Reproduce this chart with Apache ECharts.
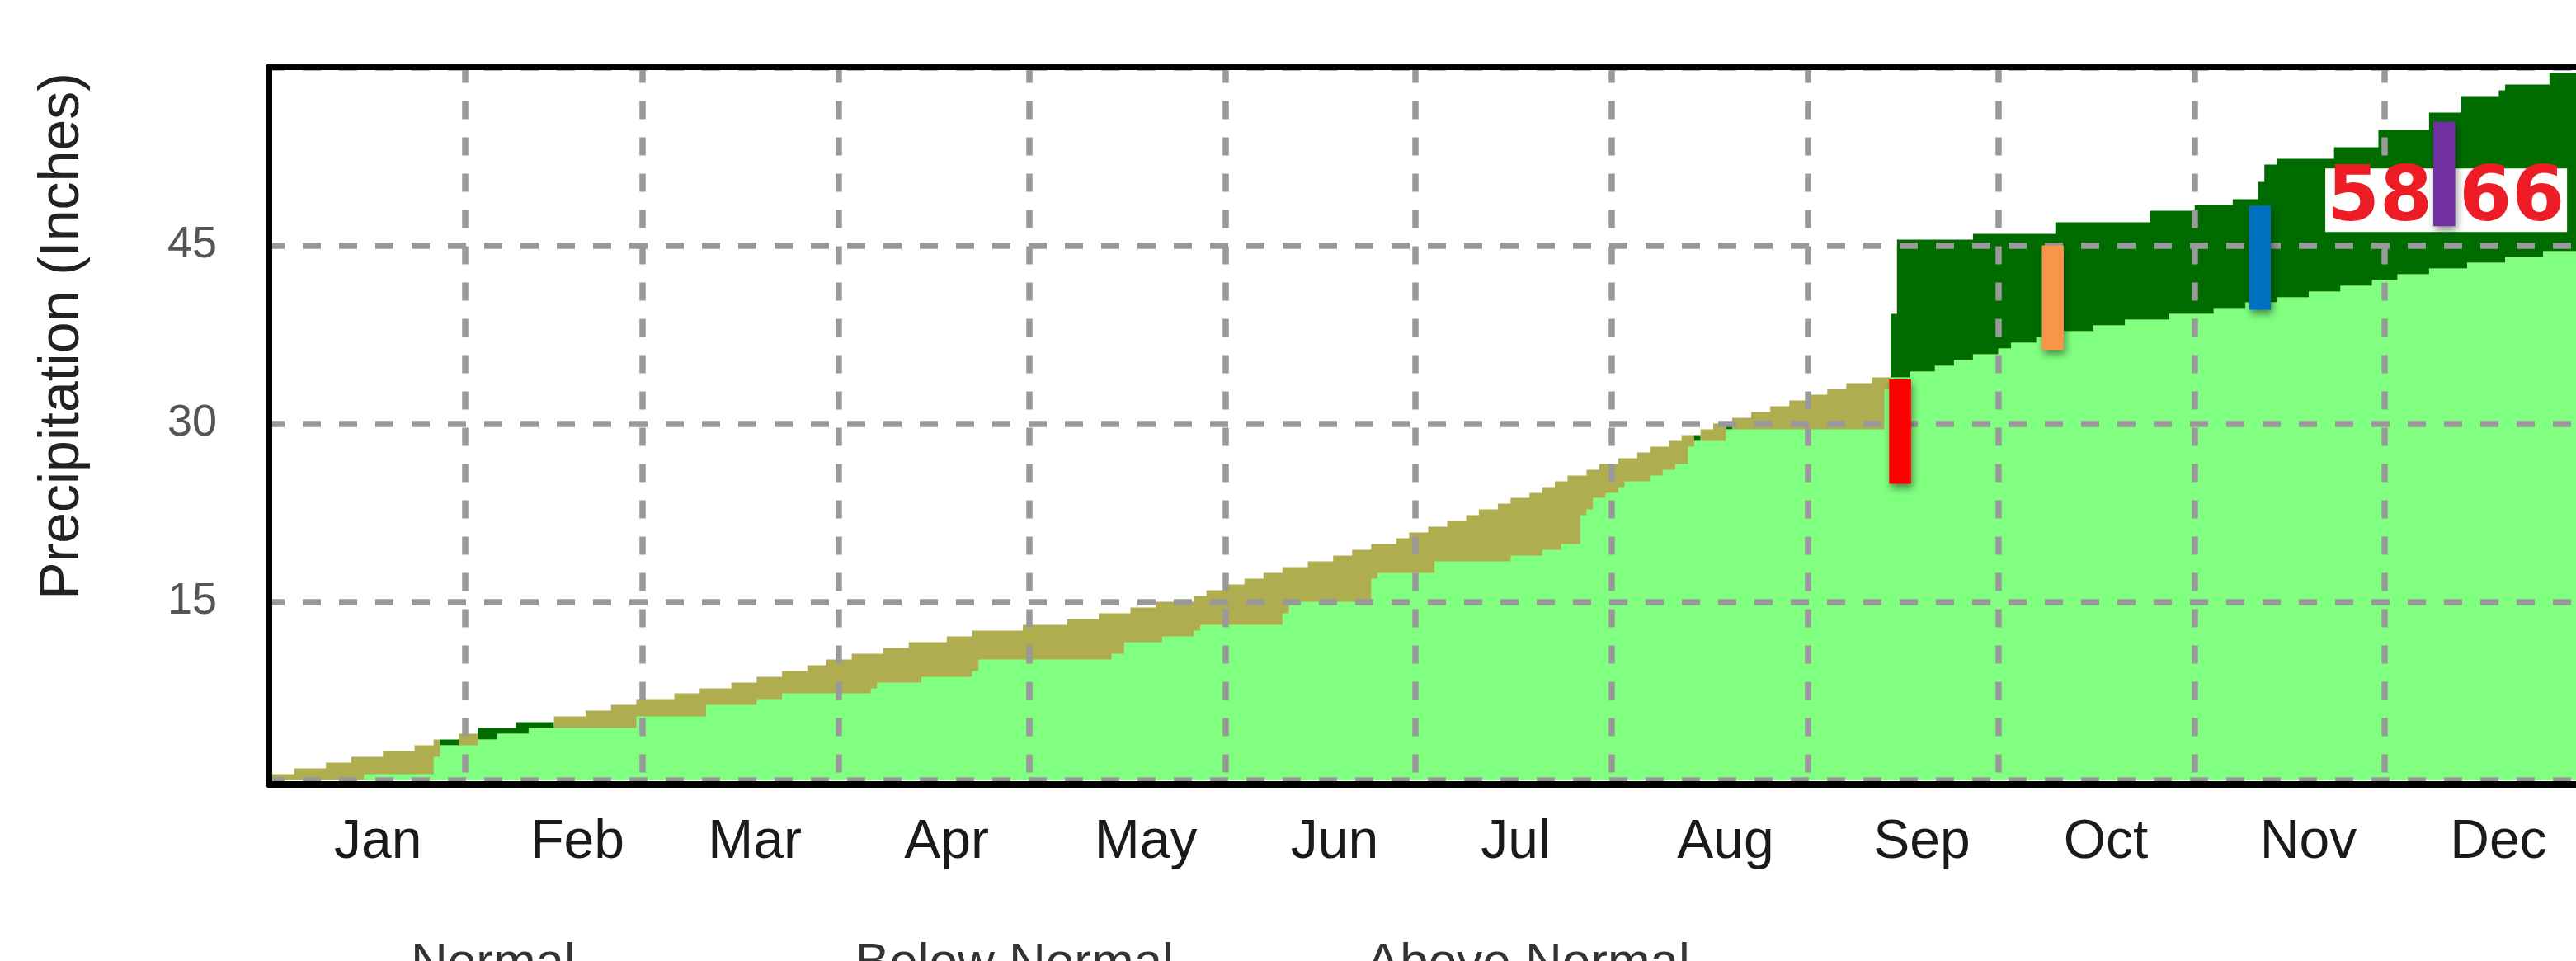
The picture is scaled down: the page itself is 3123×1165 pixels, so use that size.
<!DOCTYPE html>
<html>
<head>
<meta charset="utf-8">
<script src="https://cdn.jsdelivr.net/npm/echarts@6/dist/echarts.min.js"></script>
<style>
  html, body { margin: 0; padding: 0; background: #ffffff; }
  #chart { width: 3123px; height: 1165px; }
</style>
</head>
<body>
<div id="chart"></div>
<script>
// ---------------- data ----------------
const monthNames = ['Jan', 'Feb', 'Mar', 'Apr', 'May', 'Jun', 'Jul', 'Aug', 'Sep', 'Oct', 'Nov', 'Dec'];
const monthStartDays = [0, 31, 59, 90, 120, 151, 181, 212, 243, 273, 304, 334];
const daysInYear = 365;
const yMax = 60;
const yStep = 15;

// cumulative normal precipitation (inches): [day of year, value from that day on]
const normalSteps = [
  [0, 0.49], [4, 0.97], [9, 1.46], [13, 1.94], [18, 2.43], [23, 2.92], [26, 3.40], [27, 2.92],
  [30, 3.89], [33, 3.40], [36, 3.89], [41, 4.38], [45, 5.35], [50, 5.83], [54, 6.32], [58, 6.81],
  [64, 7.29], [68, 7.71], [73, 8.19], [77, 8.68], [81, 9.17], [85, 9.65], [88, 10.14], [92, 10.63],
  [97, 11.11], [101, 11.60], [107, 12.08], [111, 12.57], [119, 13.06], [126, 13.54], [131, 14.03],
  [136, 14.51], [140, 15.00], [146, 15.49], [148, 15.97], [151, 16.46], [154, 16.94], [157, 17.43],
  [160, 17.92], [164, 18.40], [168, 18.89], [171, 19.38], [174, 19.86], [178, 20.35], [180, 20.83],
  [183, 21.32], [186, 21.81], [189, 22.29], [191, 22.78], [194, 23.26], [196, 23.75], [199, 24.17],
  [201, 24.65], [203, 25.14], [205, 25.63], [208, 26.11], [210, 26.60], [213, 27.08], [216, 27.57],
  [218, 28.06], [221, 28.54], [223, 29.03], [225, 28.54], [226, 29.51], [228, 30.00], [230, 29.51],
  [231, 30.49], [234, 30.97], [237, 31.46], [240, 31.94], [243, 32.43], [246, 32.90], [249, 33.40],
  [253, 33.89], [259, 34.38], [263, 34.86], [266, 35.35], [269, 35.83], [273, 36.32], [275, 36.81],
  [279, 37.29], [283, 37.78], [288, 38.26], [293, 38.75], [300, 39.24], [307, 39.72], [312, 40.21],
  [317, 40.63], [322, 41.11], [327, 41.60], [332, 42.08], [336, 42.57], [341, 43.06], [347, 43.54],
  [353, 44.03], [359, 44.51]
];

// cumulative observed precipitation (inches): [day of year, value from that day on]
const observedSteps = [
  [0, 0], [15, 0.49], [26, 1.94], [27, 3.40], [30, 2.92], [33, 4.38], [39, 4.86], [45, 4.38],
  [58, 5.35], [69, 6.32], [77, 6.81], [81, 7.29], [95, 7.71], [96, 8.19], [103, 8.68], [111, 9.17],
  [112, 10.14], [133, 10.63], [135, 11.60], [141, 12.08], [146, 12.57], [147, 13.06], [160, 14.03],
  [161, 15.00], [174, 16.94], [175, 17.43], [184, 18.40], [196, 18.89], [201, 19.38], [204, 19.86],
  [207, 22.29], [208, 22.78], [209, 23.75], [211, 24.17], [213, 24.65], [214, 25.14], [218, 25.63],
  [220, 26.11], [222, 26.60], [224, 28.06], [225, 29.03], [226, 28.54], [230, 30.00], [231, 29.51],
  [255, 32.90], [256, 39.24], [257, 45.49], [269, 45.97], [282, 46.94], [297, 47.92], [304, 48.40],
  [310, 48.89], [314, 50.35], [315, 51.81], [317, 52.29], [326, 53.26], [333, 54.72], [341, 56.18],
  [346, 57.57], [352, 58.06], [353, 58.54], [360, 59.51]
];

// event markers: day, bottom and top (inches)
const eventDays = [257.5, 281.6, 314.3, 343.4];
const eventLow = [24.93, 36.2, 39.58, 46.62];
const eventHigh = [33.73, 45.0, 48.35, 55.42];
const eventColors = ['#FF0000', '#F79646', '#0070C0', '#7030A0'];

// annotation box
const annotationText = '58 66';
const annotationPoint = [343.7, 48.8];

const legendNames = ['Normal', 'Below Normal', 'Above Normal'];

// ---------------- helpers ----------------
function valueAt(steps, day) {
  let v = steps[0][1];
  for (const [d, val] of steps) { if (d <= day) v = val; else break; }
  return v;
}
function closeSteps(steps) {
  return steps.concat([[daysInYear, steps[steps.length - 1][1]]]);
}
const changeDays = Array.from(new Set(normalSteps.map(p => p[0]).concat(observedSteps.map(p => p[0])))).sort((a, b) => a - b);
const lowerSteps = changeDays.map(d => [d, Math.min(valueAt(normalSteps, d), valueAt(observedSteps, d))]);

const monthBoundaries = monthStartDays.slice(1);
const labelDays = monthStartDays.map(d => d + 10.3);

// ---------------- chart ----------------
const chart = echarts.init(document.getElementById('chart'), null, { renderer: 'canvas', width: 3123, height: 1165 });

const gridLineStyle = { color: '#999999', width: 7.5, type: [22, 22], dashOffset: 3 };
const FONT = 'Liberation Sans, Arial, sans-serif';

function areaSeries(name, steps, color) {
  return {
    name: name, type: 'line', step: 'end', data: closeSteps(steps),
    symbol: 'none', showSymbol: false, silent: true, z: 2,
    color: color, itemStyle: { color: color },
    lineStyle: { width: 0, color: color },
    areaStyle: { color: color, opacity: 1 }
  };
}

function legendAt(name, left) {
  return {
    show: true, orient: 'horizontal', left: left, top: 1138, width: 600, height: 90, padding: 0,
    itemWidth: 30, itemHeight: 20, itemGap: 10, icon: 'rect', selectedMode: false,
    itemStyle: { opacity: 0 },
    textStyle: { fontFamily: FONT, fontSize: 62, color: '#333' },
    data: [name]
  };
}

const option = {
  animation: false,
  backgroundColor: '#ffffff',
  grid: { left: 326, top: 81.5, width: 2803.2, height: 864, containLabel: false, outerBoundsMode: 'none' },
  legend: [legendAt(legendNames[0], 463), legendAt(legendNames[1], 1002), legendAt(legendNames[2], 1621)],
  xAxis: [
    {
      type: 'value', min: 0, max: daysInYear, position: 'bottom', offset: 5.5, z: 5,
      axisLine: { show: true, onZero: false, lineStyle: { color: '#000', width: 8 } },
      axisTick: { show: false, customValues: monthBoundaries },
      splitLine: { show: true, lineStyle: gridLineStyle },
      axisLabel: {
        show: true, customValues: labelDays, align: 'left', margin: 38,
        fontFamily: FONT, fontSize: 66, lineHeight: 66, color: '#1a1a1a',
        formatter: function (value) {
          const i = labelDays.findIndex(v => Math.abs(v - value) < 0.01);
          return i >= 0 ? monthNames[i] : '';
        }
      }
    },
    {
      type: 'value', min: 0, max: daysInYear, position: 'top', z: 5,
      axisLine: { show: true, onZero: false, lineStyle: { color: '#000', width: 7 } },
      axisTick: { show: false }, axisLabel: { show: false }, splitLine: { show: false }
    }
  ],
  yAxis: {
    type: 'value', min: 0, max: yMax, interval: yStep, z: 5,
    axisLine: { show: true, onZero: false, lineStyle: { color: '#000', width: 8 } },
    axisTick: { show: false },
    splitLine: { show: true, lineStyle: gridLineStyle },
    axisLabel: {
      show: true, showMinLabel: false, showMaxLabel: false, margin: 63,
      fontFamily: FONT, fontSize: 54, color: '#555'
    },
    name: 'Precipitation (Inches)', nameLocation: 'middle', nameGap: 216,
    nameTextStyle: { fontFamily: FONT, fontSize: 68, lineHeight: 68, color: '#222', padding: [0, 0, 0, 212] }
  },
  series: [
    areaSeries(legendNames[2], observedSteps, '#006C00'),
    areaSeries(legendNames[1], normalSteps, '#AFAD4F'),
    areaSeries(legendNames[0], lowerSteps, '#80FF80'),
    {
      type: 'scatter', z: 6, silent: true,
      data: [annotationPoint], symbol: 'circle', symbolSize: 1,
      itemStyle: { color: 'rgba(0,0,0,0)', opacity: 1 },
      label: {
        show: true, position: 'inside', formatter: annotationText, opacity: 1,
        fontFamily: 'DejaVu Sans', fontWeight: 'bold', fontSize: 92, lineHeight: 72,
        color: '#EE1D25', backgroundColor: '#ffffff', padding: [2, 3, 3, 2]
      }
    },
    {
      type: 'custom', z: 7, silent: true, clip: false,
      data: eventDays.map((d, i) => [d, eventLow[i], eventHigh[i], i]),
      renderItem: function (params, api) {
        const top = api.coord([api.value(0), api.value(2)]);
        const bottom = api.coord([api.value(0), api.value(1)]);
        const w = 26.5;
        return {
          type: 'rect',
          shape: { x: top[0] - w / 2, y: top[1], width: w, height: bottom[1] - top[1] },
          style: {
            fill: eventColors[api.value(3)],
            shadowBlur: 10, shadowOffsetX: 2, shadowOffsetY: 5, shadowColor: 'rgba(0,0,0,0.45)'
          }
        };
      }
    }
  ]
};

chart.setOption(option);
</script>
</body>
</html>
